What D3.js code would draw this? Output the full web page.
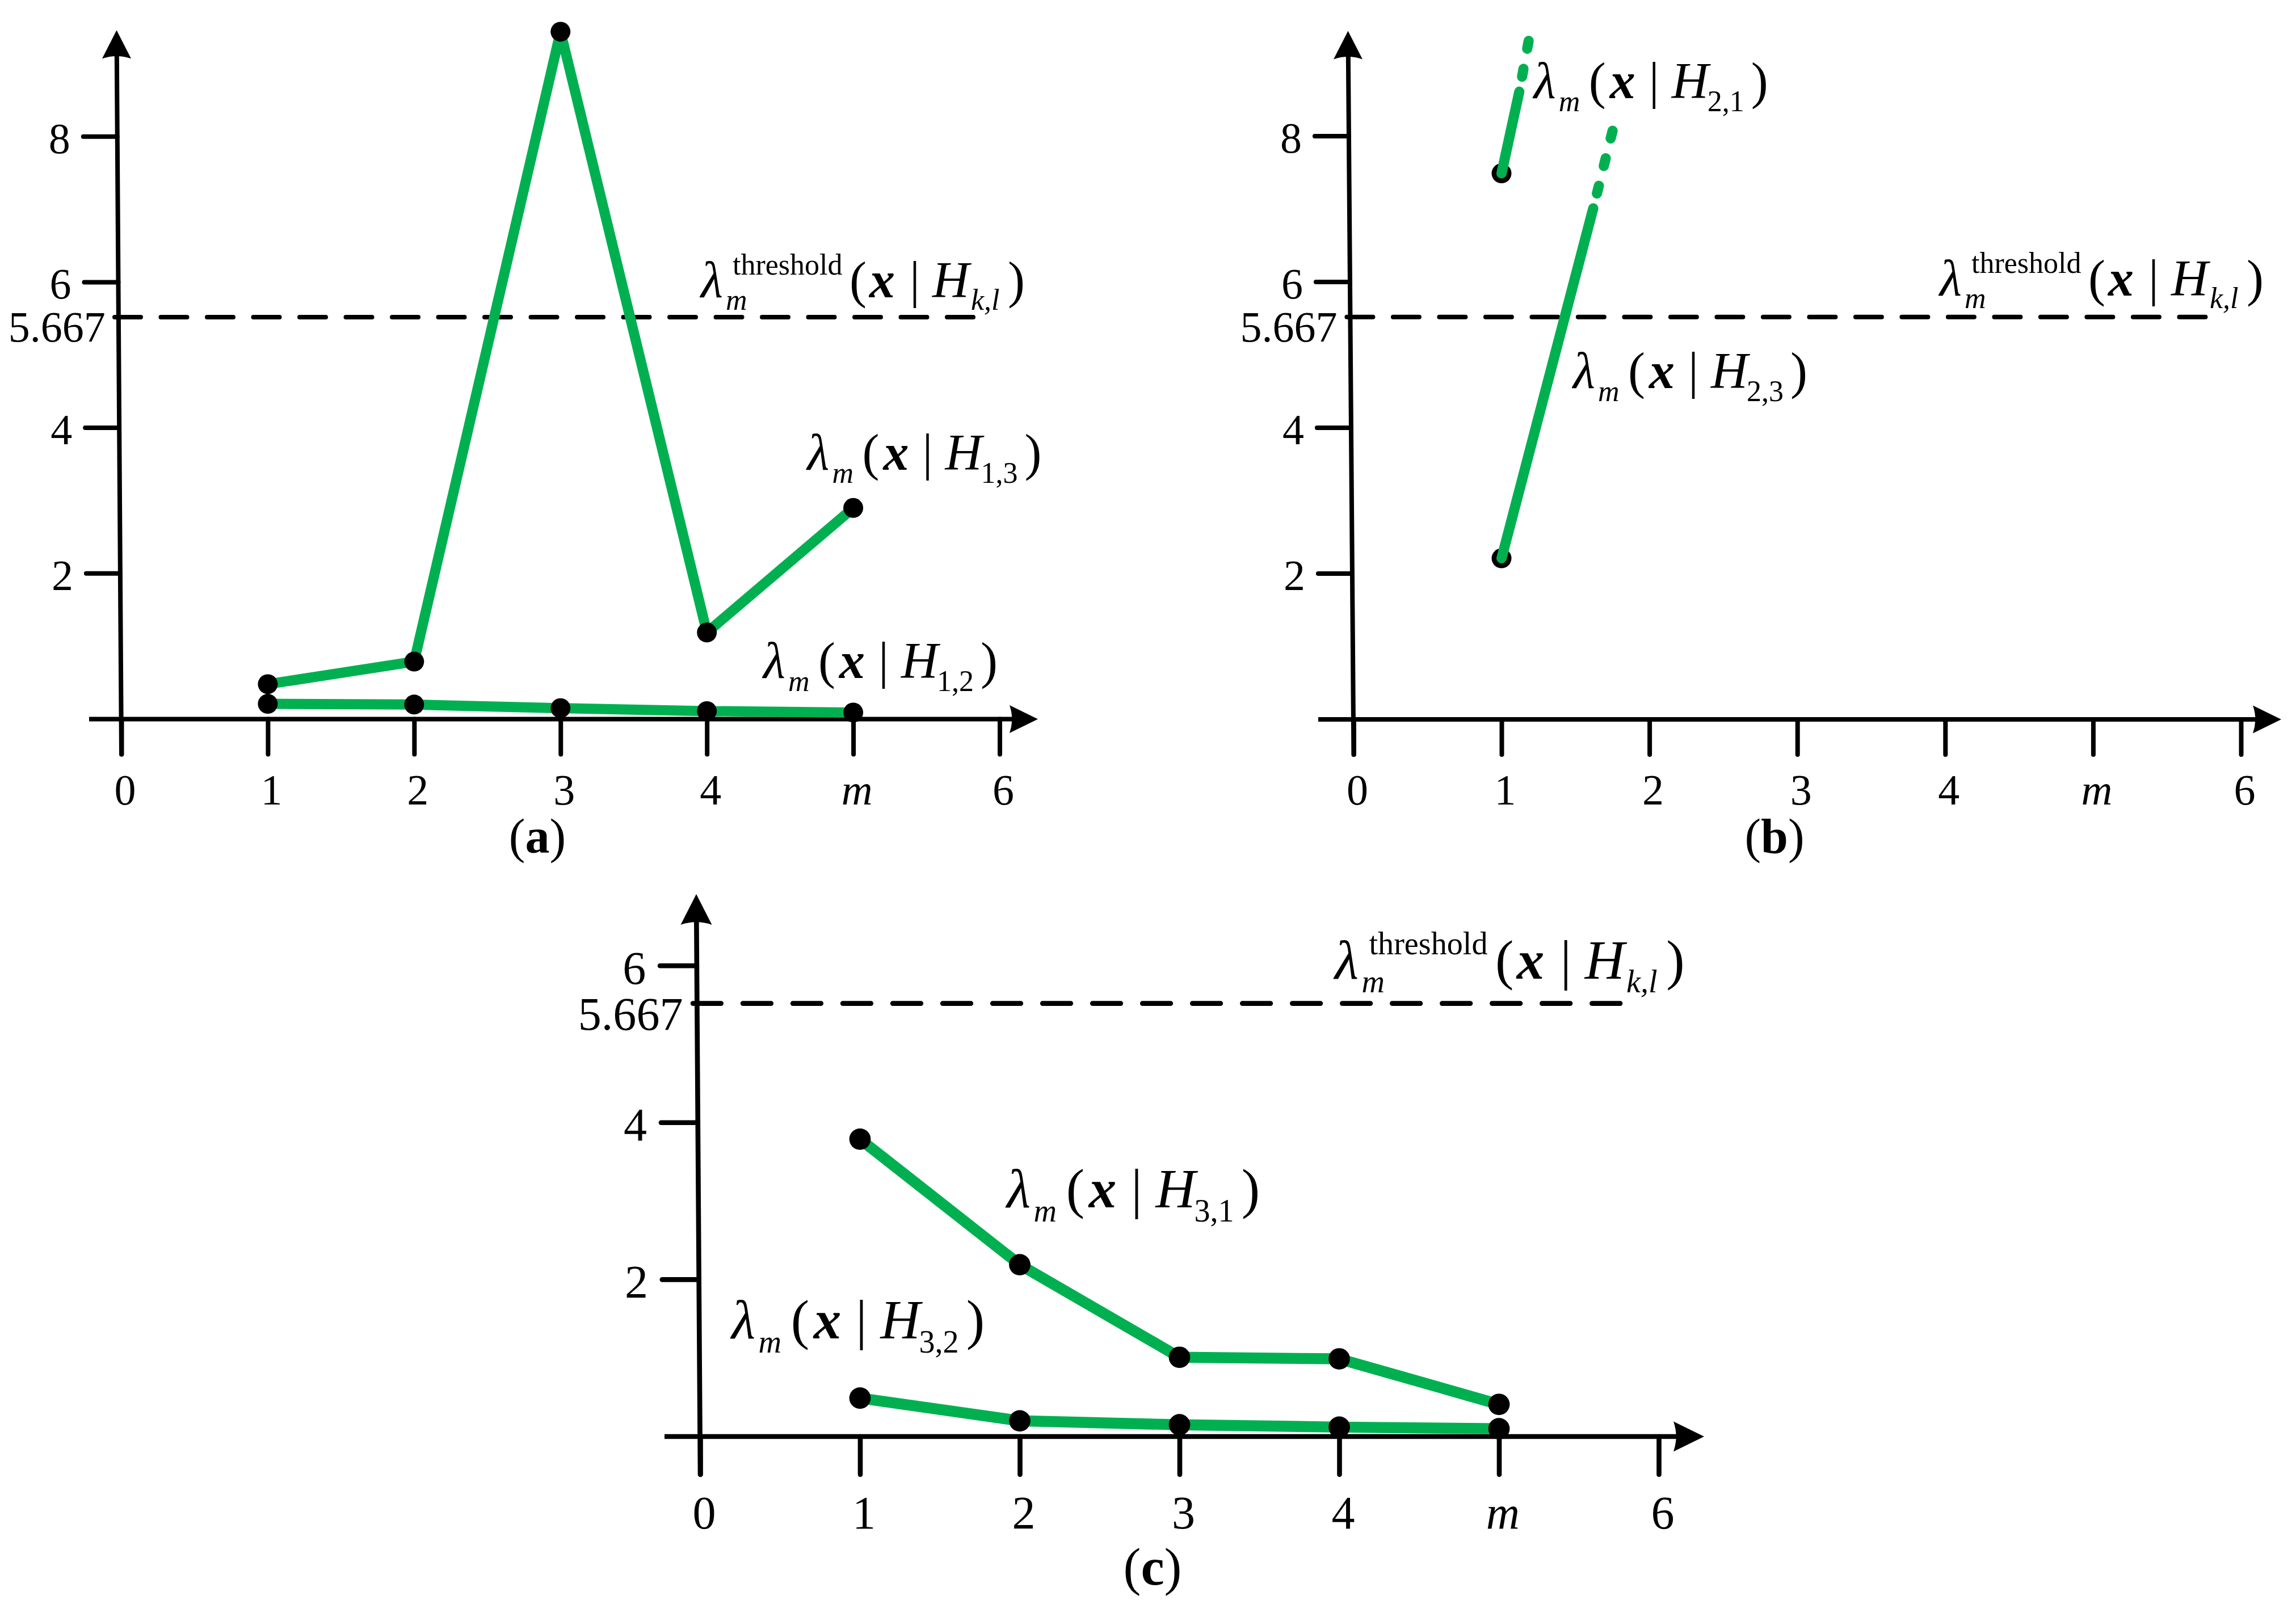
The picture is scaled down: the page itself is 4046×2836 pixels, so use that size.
<!DOCTYPE html>
<html><head><meta charset="utf-8">
<script src="https://cdn.jsdelivr.net/npm/d3@7"></script>
<style>
html,body{margin:0;padding:0;background:#fff;}
svg{display:block;background:#fff;}
text{font-family:"Liberation Serif","Times New Roman",serif;fill:#000;}
</style>
</head><body>
<svg id="chart" width="4046" height="2836"></svg>
<script>
// ---------------- data ----------------
const mTicks = [0, 1, 2, 3, 4, 5, 6];
const mTickLabels = ["0", "1", "2", "3", "4", "m", "6"];
const mPoints = [1, 2, 3, 4, 5];
const yTicksAB = [2, 4, 6, 8];
const yTicksC = [2, 4, 6];
const yTickLabels = {2: "2", 4: "4", 6: "6", 8: "8"};
const thresholdText = "5.667";
const thresholdLevel = 5.52;      // drawn height of the dashed line
const thresholdEndM = 5.84;
// (a)
const lambdaH13 = [0.48, 0.79, 9.44, 1.19, 2.90];
const lambdaH12 = [0.21, 0.20, 0.15, 0.11, 0.09];
// (b)  [m, value]
const lambdaH21Solid  = [[1, 7.49], [1.12, 8.61]];
const lambdaH21Dashed = [[1.12, 8.61], [1.19, 9.38]];
const lambdaH23Solid  = [[1, 2.21], [1.62, 7.01]];
const lambdaH23Dashed = [[1.62, 7.01], [1.77, 8.23]];
// (c)
const lambdaH31 = [3.79, 2.19, 1.01, 0.99, 0.41];
const lambdaH32 = [0.49, 0.20, 0.15, 0.12, 0.10];
// label texts
const subLabels = {a: ["1,3", "1,2"], b: ["2,1", "2,3"], c: ["3,1", "3,2"]};

// ---------------- layout ----------------
const GREEN = "#00b050";
const svg = d3.select("#chart");

const panels = [
  {id: "a", k: 1, xr: [214, 1761.5], yDom: [0, 8], yr: [1267.5, 240.7], yTicks: yTicksAB,
   top: [205.5, 53.3], botX: 214, xStart: 157, xTip: 1829,
   letter: [947, 1503], thr: [1235, 523.6]},
  {id: "b", k: 1, xr: [2385.4, 3949], yDom: [0, 8], yr: [1268, 240], yTicks: yTicksAB,
   top: [2375.5, 54.4], botX: 2385.4, xStart: 2323, xTip: 4020,
   letter: [3127, 1503], thr: [3418, 521]},
  {id: "c", k: 1.08, xr: [1234, 2923], yDom: [0, 6], yr: [2532, 1702.2], yTicks: yTicksC,
   top: [1227, 1576], botX: 1234, xStart: 1171, xTip: 3003,
   letter: [2031, 2793], thr: [2352, 1725]}
];

function lambdaLabel(g, X, Y, k, sub) {
  const parts = [
    {t: "λ", dx: 0, dy: 0, fs: 90, it: 1},
    {t: "m", dx: 44, dy: 23, fs: 52, it: 1},
    {t: "(", dx: 97, dy: 0, fs: 90},
    {t: "x", dx: 134, dy: 0, fs: 90, it: 1, b: 1},
    {t: "|", dx: 203, dy: 0, fs: 90},
    {t: "H", dx: 243, dy: 0, fs: 90, it: 1},
    {t: sub, dx: 306, dy: 23, fs: 52},
    {t: ")", dx: 383, dy: 0, fs: 90}
  ];
  drawParts(g, X, Y, k, parts);
}
function thresholdLabel(g, X, Y, k) {
  const parts = [
    {t: "λ", dx: 0, dy: 0, fs: 90, it: 1},
    {t: "m", dx: 44, dy: 22, fs: 52, it: 1},
    {t: "threshold", dx: 56, dy: -40, fs: 52},
    {t: "(", dx: 262, dy: 0, fs: 90},
    {t: "x", dx: 297, dy: 0, fs: 90, it: 1, b: 1},
    {t: "|", dx: 368, dy: 0, fs: 90},
    {t: "H", dx: 408, dy: 0, fs: 90, it: 1},
    {t: "k,l", dx: 476, dy: 22, fs: 52, it: 1},
    {t: ")", dx: 541, dy: 0, fs: 90}
  ];
  drawParts(g, X, Y, k, parts);
}
function drawParts(g, X, Y, k, parts) {
  parts.forEach(p => {
    g.append("text")
      .attr("x", X + p.dx * k).attr("y", Y + p.dy * k)
      .attr("font-size", p.fs * k)
      .style("font-style", p.it ? "italic" : "normal")
      .style("font-weight", p.b ? "bold" : "normal")
      .text(p.t);
  });
}

function arrowUp(g, tx, ty, k) {
  const h = 50 * k, w = 25.5 * k, c = 41.4 * k;
  g.append("path").attr("d", `M${tx},${ty}L${tx + w},${ty + h}Q${tx},${ty + c} ${tx - w},${ty + h}Z`).attr("fill", "#000");
}
function arrowRight(g, tx, ty, k) {
  const h = 50 * k, w = 24.5 * k, c = 41.4 * k;
  g.append("path").attr("d", `M${tx},${ty}L${tx - h},${ty - w}Q${tx - c},${ty} ${tx - h},${ty + w}Z`).attr("fill", "#000");
}

const scales = {};

panels.forEach(P => {
  const k = P.k;
  const g = svg.append("g").attr("id", "panel-" + P.id);
  const x = d3.scaleLinear().domain([0, 6]).range(P.xr);
  const y = d3.scaleLinear().domain(P.yDom).range(P.yr);
  scales[P.id] = {x, y, g, k};
  const y0 = y(0);
  const botY = y0 + 62 * k;
  const axisX = yy => P.top[0] + (P.botX - P.top[0]) * (yy - P.top[1]) / (botY - P.top[1]);

  // x axis ticks + labels
  const xa = d3.axisBottom(x).tickValues(mTicks).tickFormat((d, i) => mTickLabels[i])
    .tickSize(62 * k).tickPadding(0);
  const gx = g.append("g").attr("transform", `translate(0,${y0})`).call(xa);
  gx.attr("font-family", null).attr("font-size", null);
  gx.select(".domain").remove();
  gx.selectAll(".tick line").attr("stroke", "#000").attr("stroke-width", 8 * k).attr("stroke-linecap", "round");
  gx.selectAll(".tick text").attr("y", 150 * k).attr("dy", 0).attr("dx", 6 * k)
    .attr("font-size", 76 * k).style("font-style", d => d === 5 ? "italic" : "normal");

  // y axis ticks + labels (follow the slightly slanted axis)
  const ya = d3.axisLeft(y).tickValues(P.yTicks).tickFormat(d => yTickLabels[d])
    .tickSize(60 * k).tickPadding(0);
  const gy = g.append("g").call(ya);
  gy.attr("font-family", null).attr("font-size", null);
  gy.select(".domain").remove();
  gy.selectAll(".tick").attr("transform", d => `translate(${axisX(y(d))},${y(d)})`);
  gy.selectAll(".tick line").attr("stroke", "#000").attr("stroke-width", 8 * k).attr("stroke-linecap", "round");
  gy.selectAll(".tick text").attr("x", -83 * k).attr("dy", 0).attr("y", 29 * k).attr("font-size", 76 * k);

  // axis lines + arrows
  g.append("line").attr("x1", axisX(P.top[1] + 44 * k)).attr("y1", P.top[1] + 44 * k)
    .attr("x2", P.botX).attr("y2", botY).attr("stroke", "#000").attr("stroke-width", 8 * k).attr("stroke-linecap", "round");
  arrowUp(g, P.top[0], P.top[1], k);
  g.append("line").attr("x1", P.xStart).attr("y1", y0).attr("x2", P.xTip - 44 * k).attr("y2", y0)
    .attr("stroke", "#000").attr("stroke-width", 8 * k);
  arrowRight(g, P.xTip, y0, k);

  // threshold dashed line
  const ty = y(thresholdLevel);
  g.append("line").attr("x1", x(0) - 12 * k).attr("x2", x(thresholdEndM)).attr("y1", ty).attr("y2", ty)
    .attr("stroke", "#000").attr("stroke-width", 8 * k).attr("stroke-linecap", "round")
    .attr("stroke-dasharray", `${46 * k},${35.5 * k}`);
  g.append("text").attr("x", axisX(ty) - 23 * k).attr("y", ty + 43 * k).attr("text-anchor", "end")
    .attr("font-size", 76 * k).text(thresholdText);
  thresholdLabel(g, P.thr[0], P.thr[1], k);

  // panel letter
  const lt = g.append("text").attr("x", P.letter[0]).attr("y", P.letter[1]).attr("text-anchor", "middle")
    .attr("font-size", 86 * k);
  lt.append("tspan").text("(");
  lt.append("tspan").style("font-weight", "bold").text(P.id);
  lt.append("tspan").text(")");
});

function series(id, values) {
  const {x, y, g, k} = scales[id];
  const pts = values.map((v, i) => [mPoints[i], v]);
  g.append("path").datum(pts)
    .attr("d", d3.line().x(d => x(d[0])).y(d => y(d[1])))
    .attr("fill", "none").attr("stroke", GREEN).attr("stroke-width", 18 * k).attr("stroke-linejoin", "round");
  g.selectAll(null).data(pts).enter().append("circle")
    .attr("cx", d => x(d[0])).attr("cy", d => y(d[1])).attr("r", 17.5 * k).attr("fill", "#000");
}
function partial(id, solid, dashed) {
  const {x, y, g, k} = scales[id];
  const line = d3.line().x(d => x(d[0])).y(d => y(d[1]));
  g.append("circle").attr("cx", x(solid[0][0])).attr("cy", y(solid[0][1])).attr("r", 17.5 * k).attr("fill", "#000");
  g.append("path").datum(solid).attr("d", line).attr("fill", "none")
    .attr("stroke", GREEN).attr("stroke-width", 18 * k).attr("stroke-linecap", "round");
  g.append("path").datum(dashed).attr("d", line).attr("fill", "none")
    .attr("stroke", GREEN).attr("stroke-width", 18 * k).attr("stroke-linecap", "round")
    .attr("stroke-dasharray", `${14 * k},${36 * k}`).attr("stroke-dashoffset", -27 * k);
}

// (a)
series("a", lambdaH12);
series("a", lambdaH13);
lambdaLabel(scales.a.g, 1422.5, 828, 1, subLabels.a[0]);
lambdaLabel(scales.a.g, 1345, 1195, 1, subLabels.a[1]);
// (b)
partial("b", lambdaH21Solid, lambdaH21Dashed);
partial("b", lambdaH23Solid, lambdaH23Dashed);
lambdaLabel(scales.b.g, 2702.7, 173.3, 1, subLabels.b[0]);
lambdaLabel(scales.b.g, 2772, 684, 1, subLabels.b[1]);
// (c)
series("c", lambdaH32);
series("c", lambdaH31);
lambdaLabel(scales.c.g, 1774, 2128, 1.08, subLabels.c[0]);
lambdaLabel(scales.c.g, 1289, 2359, 1.08, subLabels.c[1]);
</script>
</body></html>
